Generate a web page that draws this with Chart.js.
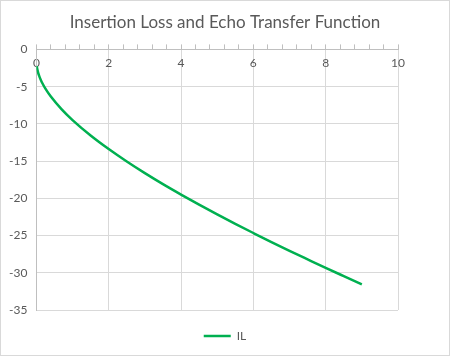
<!DOCTYPE html>
<html>
<head>
<meta charset="utf-8">
<script src="https://cdn.jsdelivr.net/npm/chart.js@4.4.0/dist/chart.umd.min.js"></script>
<style>
html,body{margin:0;padding:0;background:#fff;}
#wrap{width:450px;height:356px;position:relative;}
</style>
</head>
<body>
<div id="wrap"><canvas id="c" width="450" height="356"></canvas></div>
<script>
const chartTitle = "Insertion Loss and Echo Transfer Function";
const seriesName = "IL";
const freq = [0.01, 0.02, 0.05, 0.08, 0.12, 0.17, 0.25, 0.4, 0.7, 1.0, 1.5, 2.0, 2.5, 3.0, 3.5, 4.0, 4.5, 5.0, 5.5, 6.0, 6.5, 7.0, 7.5, 8.0, 8.5, 9.0];
const ilValues = [-2.25, -2.53, -3.15, -3.59, -4.07, -4.58, -5.27, -6.34, -8.06, -9.5, -11.57, -13.39, -15.06, -16.62, -18.1, -19.5, -20.85, -22.16, -23.43, -24.66, -25.87, -27.05, -28.2, -29.34, -30.45, -31.55];
const xTicks = [0, 2, 4, 6, 8, 10];
const yTicks = [0, -5, -10, -15, -20, -25, -30, -35];

const textColor = '#595959';
const gridColor = '#d9d9d9';
const axisColor = '#bfbfbf';

const borderPlugin = {
  id: 'frame',
  beforeDraw(chart) {
    const ctx = chart.ctx;
    ctx.save();
    ctx.fillStyle = '#fff';
    ctx.fillRect(0, 0, chart.width, chart.height);
    ctx.restore();
  },
  afterDraw(chart) {
    const ctx = chart.ctx;
    ctx.save();
    ctx.strokeStyle = '#d9d9d9';
    ctx.lineWidth = 1;
    ctx.strokeRect(0.5, 0.5, chart.width - 1, chart.height - 1);
    ctx.restore();
  }
};

new Chart(document.getElementById('c'), {
  type: 'line',
  data: {
    datasets: [{
      label: seriesName,
      data: freq.map((f, i) => ({x: f, y: ilValues[i]})),
      borderColor: '#00b050',
      backgroundColor: '#00b050',
      borderWidth: 2.5,
      pointRadius: 0,
      cubicInterpolationMode: 'monotone',
      fill: false,
      pointStyle: 'line'
    }]
  },
  options: {
    responsive: false,
    animation: false,
    devicePixelRatio: 1,
    layout: {padding: {left: 0, right: 0, top: 0, bottom: 4}},
    plugins: {
      title: {
        display: true,
        text: chartTitle,
        color: textColor,
        font: {family: 'Lato', size: 17, weight: 'normal'},
        padding: {top: 12, bottom: 12}
      },
      legend: {
        position: 'bottom',
        labels: {
          usePointStyle: true,
          pointStyle: 'line',
          pointStyleWidth: 27,
          color: textColor,
          font: {family: 'Lato', size: 12},
          padding: 10
        }
      },
      tooltip: {enabled: false}
    },
    scales: {
      x: {
        type: 'linear',
        position: {y: 0},
        min: 0, max: 10,
        afterBuildTicks: s => { s.ticks = xTicks.map(v => ({value: v})); },
        grid: {color: gridColor, drawTicks: false},
        border: {display: false},
        ticks: {color: textColor, font: {family: 'Lato', size: 12}, padding: 7, maxRotation: 0}
      },
      x2: {
        type: 'linear',
        position: 'top',
        min: 0, max: 10,
        ticks: {display: false, stepSize: 0.4},
        grid: {drawOnChartArea: false, tickLength: 5, color: axisColor},
        border: {display: true, color: axisColor}
      },
      xPad: {
        type: 'linear',
        position: 'bottom',
        ticks: {display: false},
        grid: {display: false},
        border: {display: false},
        afterFit: s => { s.height = 10; }
      },
      y: {
        type: 'linear',
        min: -35, max: 0,
        afterBuildTicks: s => { s.ticks = yTicks.map(v => ({value: v})); },
        grid: {color: gridColor, drawTicks: false},
        border: {display: true, color: axisColor},
        ticks: {color: textColor, font: {family: 'Lato', size: 12}, padding: 9}
      },
      yPad: {
        type: 'linear',
        position: 'right',
        ticks: {display: false},
        grid: {display: false},
        border: {display: false},
        afterFit: s => { s.width = 52; }
      }
    }
  },
  plugins: [borderPlugin]
});
</script>
</body>
</html>
